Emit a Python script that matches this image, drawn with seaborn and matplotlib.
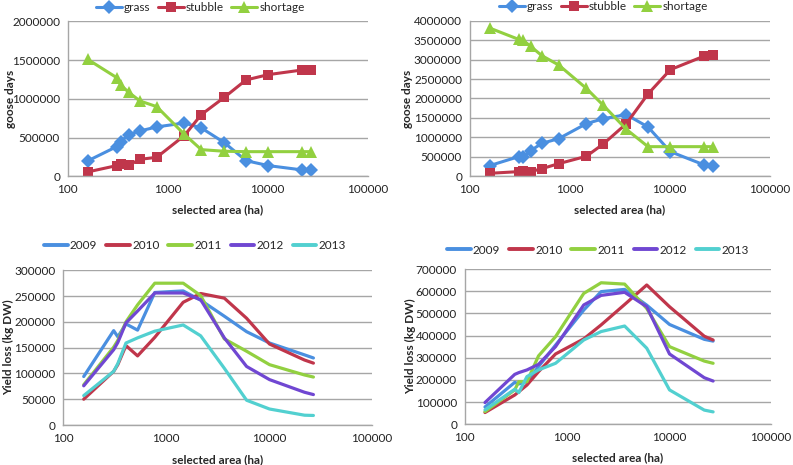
import matplotlib
matplotlib.use("Agg")
import matplotlib.pyplot as plt
import seaborn as sns
import pandas as pd
import numpy as np
from matplotlib.ticker import FuncFormatter, FixedLocator, NullLocator

# ---------------- data ----------------
area = [158, 309, 339, 407, 528, 776, 1466, 2168, 3684, 6067, 10140, 22200, 27100]

# top-left: goose days
tl_grass = [198000, 383000, 447000, 538000, 585000, 637000, 688000, 624000, 434000, 202000, 138000, 82000, 77000]
tl_stubble = [56000, 138000, 155000, 142000, 219000, 245000, 525000, 796000, 1019000, 1243000, 1312000, 1372000, 1372000]
tl_shortage = [1510000, 1273000, 1178000, 1084000, 972000, 899000, 542000, 344000, 323000, 318000, 318000, 318000, 318000]

# top-right: goose days
tr_grass = [274000, 505000, 488000, 660000, 848000, 968000, 1353000, 1482000, 1585000, 1268000, 634000, 291000, 266000]
tr_stubble = [77000, 120000, 137000, 120000, 197000, 325000, 514000, 831000, 1353000, 2116000, 2741000, 3092000, 3118000]
tr_shortage = [3812000, 3520000, 3503000, 3340000, 3100000, 2861000, 2261000, 1824000, 1208000, 762000, 762000, 762000, 762000]

# bottom-left: yield loss
bl_2009 = [94000, 183000, 171000, 196000, 184000, 257000, 260000, 242000, 211000, 181000, 159000, 136000, 130000]
bl_2010 = [50000, 104000, 117000, 154000, 134000, 170000, 238000, 255000, 246000, 207000, 157000, 126000, 120000]
bl_2011 = [78000, 151000, 164000, 200000, 233000, 275000, 275000, 251000, 167000, 143000, 117000, 97000, 93000]
bl_2012 = [76000, 146000, 160000, 198000, 221000, 256000, 256000, 243000, 169000, 113500, 88000, 63500, 59000]
bl_2013 = [57000, 104000, 119000, 159000, 169000, 182000, 194000, 173000, 110000, 48000, 31000, 19000, 18500]

# bottom-right: yield loss
br_2009 = [78000, 189000, 182000, 192000, 260000, 357000, 515000, 598000, 608000, 537000, 450000, 383000, 375000]
br_2010 = [53000, 132000, 147000, 177000, 237000, 317000, 385000, 448000, 540000, 628000, 530000, 397000, 380000]
br_2011 = [57000, 155000, 192000, 192000, 308000, 395000, 590000, 638000, 632000, 522000, 350000, 285000, 275000]
br_2012 = [98000, 225000, 233000, 245000, 270000, 350000, 538000, 581000, 595000, 530000, 317000, 210000, 195000]
br_2013 = [65000, 158000, 143000, 215000, 245000, 275000, 380000, 418000, 443000, 343000, 155000, 64000, 56000]

goose_names = ["grass", "stubble", "shortage"]
year_names = ["2009", "2010", "2011", "2012", "2013"]
xticks = [100, 1000, 10000, 100000]

# ---------------- style ----------------
sns.set_theme(style="white")
plt.rcParams["font.family"] = ["Lato", "DejaVu Sans"]

c_blue = "#4a8fe0"
c_red = "#c0364b"
c_green = "#92d040"
c_purple = "#7047d2"
c_cyan = "#52d0d0"
grid_c = "#a6a6a6"
FS = 8.5

W, H = 793, 465
fig = plt.figure(figsize=(W / 100, H / 100), dpi=100)
fig.patch.set_facecolor("white")

MSIZE = {"D": 6.8, "s": 6.6, "^": 8.0}


def add_ax(left, right, top, bottom):
    return fig.add_axes([left / W, 1 - bottom / H, (right - left) / W, (bottom - top) / H])


def style_ax(ax, ymax, ystep, ylabel, ylab_x, xlab_y):
    ax.set_xscale("log")
    ax.set_xlim(100, 100000)
    ax.xaxis.set_major_locator(FixedLocator(xticks))
    ax.xaxis.set_minor_locator(NullLocator())
    ax.xaxis.set_major_formatter(FuncFormatter(lambda v, p: f"{int(round(v))}"))
    ax.set_ylim(0, ymax)
    ax.set_yticks(np.arange(0, ymax + 1, ystep))
    ax.yaxis.set_major_formatter(FuncFormatter(lambda v, p: f"{int(round(v))}"))
    ax.grid(axis="y", color=grid_c, lw=1.0)
    ax.grid(axis="x", visible=False)
    ax.set_axisbelow(True)
    for s in ["top", "right"]:
        ax.spines[s].set_visible(False)
    for s in ["left", "bottom"]:
        ax.spines[s].set_color(grid_c)
        ax.spines[s].set_linewidth(1.0)
    ax.tick_params(axis="both", which="major", labelsize=FS, labelcolor="#222222",
                   color=grid_c, length=3, width=1.0, direction="out", pad=2.5)
    ax.set_xlabel("selected area (ha)", fontsize=FS, fontweight="bold", va="center")
    ax.set_ylabel(ylabel, fontsize=FS, fontweight="bold", va="center")
    ax.xaxis.set_label_coords(0.5, xlab_y)
    ax.yaxis.set_label_coords(ylab_x, 0.5)


def goose_panel(ax, grass, stubble, shortage, ymax, ystep, legend_x, ylab_x, xlab_y):
    df = pd.DataFrame({
        "area": area * 3,
        "value": grass + stubble + shortage,
        "series": [goose_names[0]] * len(area) + [goose_names[1]] * len(area) + [goose_names[2]] * len(area),
    })
    sns.lineplot(data=df, x="area", y="value", hue="series", style="series",
                 palette={"grass": c_blue, "stubble": c_red, "shortage": c_green},
                 markers={"grass": "D", "stubble": "s", "shortage": "^"},
                 dashes=False, lw=2.2, markersize=7, markeredgewidth=0,
                 ax=ax, sort=True)
    for ln in ax.get_lines():
        m = ln.get_marker()
        if m in MSIZE:
            ln.set_markersize(MSIZE[m])
    style_ax(ax, ymax, ystep, "goose days", ylab_x, xlab_y)
    handles, labels = ax.get_legend_handles_labels()
    for h in handles:
        h.set_linewidth(2.2)
        m = h.get_marker()
        if m in MSIZE:
            h.set_markersize(MSIZE[m])
        h.set_markeredgewidth(0)
    ax.legend(handles, labels, ncol=3, loc="center", frameon=False,
              bbox_to_anchor=(legend_x, 1.09), fontsize=FS, handlelength=2.2,
              handletextpad=0.2, columnspacing=0.6, borderaxespad=0, borderpad=0)


def yield_panel(ax, ys, ymax, ystep, legend_x, legend_y, ylab_x, xlab_y):
    df = pd.DataFrame({
        "area": area * 5,
        "value": sum(ys, []),
        "year": sum([[y] * len(area) for y in year_names], []),
    })
    sns.lineplot(data=df, x="area", y="value", hue="year",
                 palette=dict(zip(year_names, [c_blue, c_red, c_green, c_purple, c_cyan])),
                 lw=2.3, ax=ax, sort=True)
    style_ax(ax, ymax, ystep, "Yield loss (kg DW)", ylab_x, xlab_y)
    handles, labels = ax.get_legend_handles_labels()
    for h in handles:
        h.set_linewidth(2.8)
    ax.legend(handles, labels, ncol=5, loc="center", frameon=False,
              bbox_to_anchor=(legend_x, legend_y), fontsize=FS, handlelength=2.0,
              handletextpad=0.2, columnspacing=0.75, borderaxespad=0, borderpad=0)


ax1 = add_ax(67.7, 367.7, 21.3, 176.3)
goose_panel(ax1, tl_grass, tl_stubble, tl_shortage, 2000000, 500000, 0.442, -0.192, -0.217)

ax2 = add_ax(469.7, 769.7, 20.7, 176.3)
goose_panel(ax2, tr_grass, tr_stubble, tr_shortage, 4000000, 500000, 0.445, -0.206, -0.217)

ax3 = add_ax(63.3, 371.7, 270.3, 425.0)
yield_panel(ax3, [bl_2009, bl_2010, bl_2011, bl_2012, bl_2013], 300000, 50000,
            0.427, 1.159, -0.178, -0.222)

ax4 = add_ax(464.7, 771.0, 269.0, 424.3)
yield_panel(ax4, [br_2009, br_2010, br_2011, br_2012, br_2013], 700000, 100000,
            0.435, 1.122, -0.177, -0.215)

fig.savefig("out.png", dpi=100, facecolor="white")
